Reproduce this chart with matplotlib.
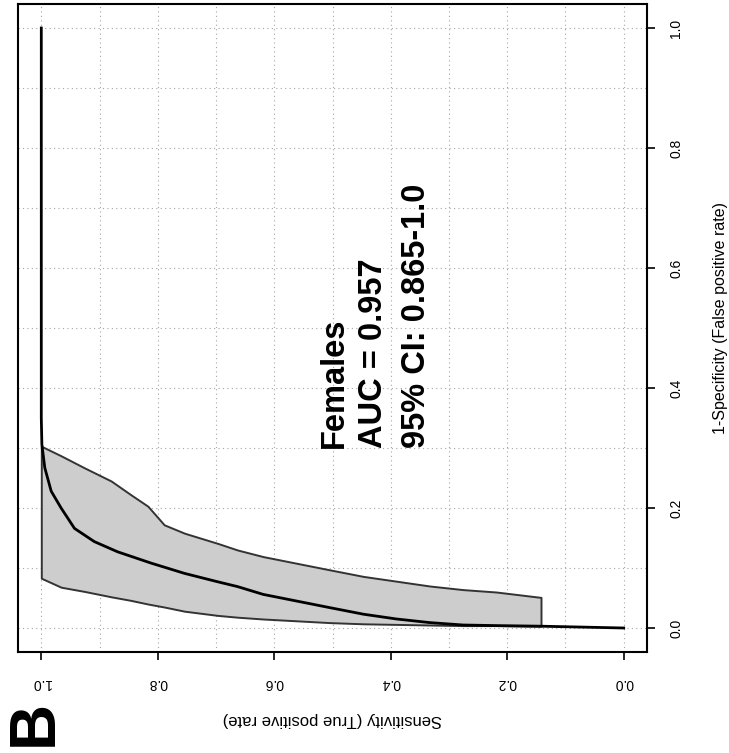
import numpy as np
import matplotlib
matplotlib.use("Agg")
import matplotlib.pyplot as plt

plt.rcParams['font.family'] = ['Liberation Sans', 'DejaVu Sans']

# ROC curve (sensitivity vs false positive rate)
roc_fpr = [0.0, 0.003, 0.004, 0.005, 0.009, 0.015, 0.023, 0.034, 0.045, 0.056,
           0.069, 0.077, 0.091, 0.108, 0.127, 0.144, 0.166, 0.200, 0.228, 0.267,
           0.306, 0.350, 1.0]
roc_sens = [0.0, 0.142, 0.219, 0.276, 0.333, 0.390, 0.447, 0.505, 0.562, 0.619,
            0.663, 0.697, 0.754, 0.811, 0.869, 0.909, 0.943, 0.966, 0.983, 0.994,
            0.999, 1.0, 1.0]

# Confidence band: FPR bounds at given sensitivity levels
ci_sens = [1.0, 0.966, 0.926, 0.880, 0.846, 0.817, 0.789, 0.754, 0.697, 0.663,
           0.619, 0.562, 0.505, 0.447, 0.390, 0.333, 0.276, 0.219, 0.142]
ci_fpr_lo = [0.083, 0.068, 0.061, 0.052, 0.046, 0.040, 0.035, 0.028, 0.021, 0.018,
             0.015, 0.012, 0.009, 0.007, 0.006, 0.005, 0.004, 0.004, 0.003]
ci_fpr_hi = [0.303, 0.287, 0.267, 0.245, 0.222, 0.203, 0.172, 0.158, 0.141, 0.130,
             0.119, 0.108, 0.097, 0.086, 0.078, 0.070, 0.064, 0.060, 0.051]

major_ticks = [0.0, 0.2, 0.4, 0.6, 0.8, 1.0]
tick_labels = ["0.0", "0.2", "0.4", "0.6", "0.8", "1.0"]
grid_ticks = np.round(np.arange(0, 1.01, 0.1), 1)

annot_lines = ["Females", "AUC = 0.957", "95% CI: 0.865-1.0"]
annot_sens = [0.482, 0.415, 0.341]

W, H = 729, 753
fig = plt.figure(figsize=(W / 100, H / 100), dpi=100)
ax = fig.add_axes([18 / W, 1 - 652 / H, 629 / W, 648 / H])

ax.fill_between(ci_sens, ci_fpr_lo, ci_fpr_hi, facecolor='#cdcdcd',
                edgecolor='#333333', linewidth=1.4, zorder=2)
ax.plot(roc_sens, roc_fpr, color='black', linewidth=2.0, zorder=3)

ax.set_xlim(1.04, -0.04)
ax.set_ylim(-0.04, 1.04)

ax.set_xticks(major_ticks)
ax.set_xticklabels(tick_labels, rotation=180)
ax.set_yticks(major_ticks)
ax.set_yticklabels(tick_labels, rotation=90, va='center')
ax.set_xticks(grid_ticks, minor=True)
ax.set_yticks(grid_ticks, minor=True)
ax.yaxis.tick_right()
ax.tick_params(axis='both', which='major', length=6, width=1.2, labelsize=10,
               color='black')
ax.tick_params(axis='x', which='major', pad=11)
ax.tick_params(axis='y', which='major', pad=10)
ax.tick_params(axis='both', which='minor', length=0)
ax.grid(True, which='both', linestyle=(0, (1, 3)), color='#a5a5a5',
        linewidth=0.8, zorder=1)
ax.set_axisbelow(True)
for s in ax.spines.values():
    s.set_linewidth(1.5)
    s.set_color('black')

for txt, sx in zip(annot_lines, annot_sens):
    ax.text(sx, 0.30, txt, rotation=90, rotation_mode='anchor', ha='left',
            va='baseline', fontsize=23.5, fontweight='bold', color='black',
            zorder=4)

fig.text(332 / W, 1 - 720 / H, "Sensitivity (True positive rate)", rotation=180,
         ha='center', va='center', fontsize=12)
fig.text(720 / W, 1 - 318 / H, "1-Specificity (False positive rate)", rotation=90,
         ha='center', va='center', fontsize=11.5)
fig.text(35 / W, 1 - 723 / H, "B", rotation=90, ha='center', va='center',
         fontsize=46, fontweight='bold')

fig.savefig("out.png", dpi=100)
